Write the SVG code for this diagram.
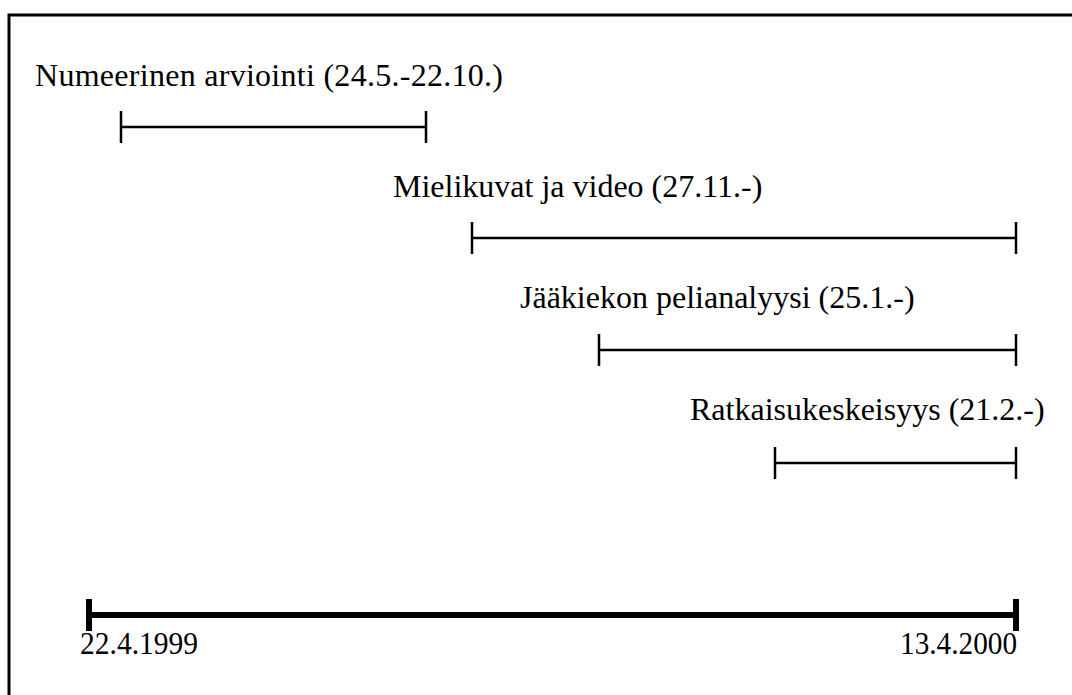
<svg xmlns="http://www.w3.org/2000/svg" width="1072" height="695" viewBox="0 0 1072 695">
<style>
.t{font-family:"Liberation Serif","Times New Roman",serif;font-size:32px;fill:#000}
.d{font-family:"Liberation Serif","Times New Roman",serif;font-size:32px;fill:#000}
.bar{stroke:#000;stroke-width:2.5;fill:none}
.axis{stroke:#000;stroke-width:6;fill:none}
.frame{stroke:#000;stroke-width:3;fill:none}
</style>
<rect width="1072" height="695" fill="#fff"/>
<path class="frame" d="M9 700 V15 H1080"/>
<g id="numeerinen">
<text class="t" x="35" y="86" textLength="468" lengthAdjust="spacing">Numeerinen arviointi (24.5.-22.10.)</text>
<path class="bar" d="M121 127 H426 M121 111 V143 M426 111 V143"/>
</g>
<g id="mielikuvat">
<text class="t" x="393" y="197">Mielikuvat ja video (27.11.-)</text>
<path class="bar" d="M472 238 H1016 M472 222 V254 M1016 222 V254"/>
</g>
<g id="jaakiekon">
<text class="t" x="520" y="308">Jääkiekon pelianalyysi (25.1.-)</text>
<path class="bar" d="M599 350 H1016 M599 334 V366 M1016 334 V366"/>
</g>
<g id="ratkaisu">
<text class="t" x="690" y="420">Ratkaisukeskeisyys (21.2.-)</text>
<path class="bar" d="M775 463 H1016 M775 447 V479 M1016 447 V479"/>
</g>
<g id="axis">
<path class="axis" d="M89 615 H1016 M89 599 V631 M1016 599 V631"/>
<text class="d" x="80" y="654" textLength="118" lengthAdjust="spacingAndGlyphs">22.4.1999</text>
<text class="d" x="900" y="654" textLength="117" lengthAdjust="spacingAndGlyphs">13.4.2000</text>
</g>
</svg>
